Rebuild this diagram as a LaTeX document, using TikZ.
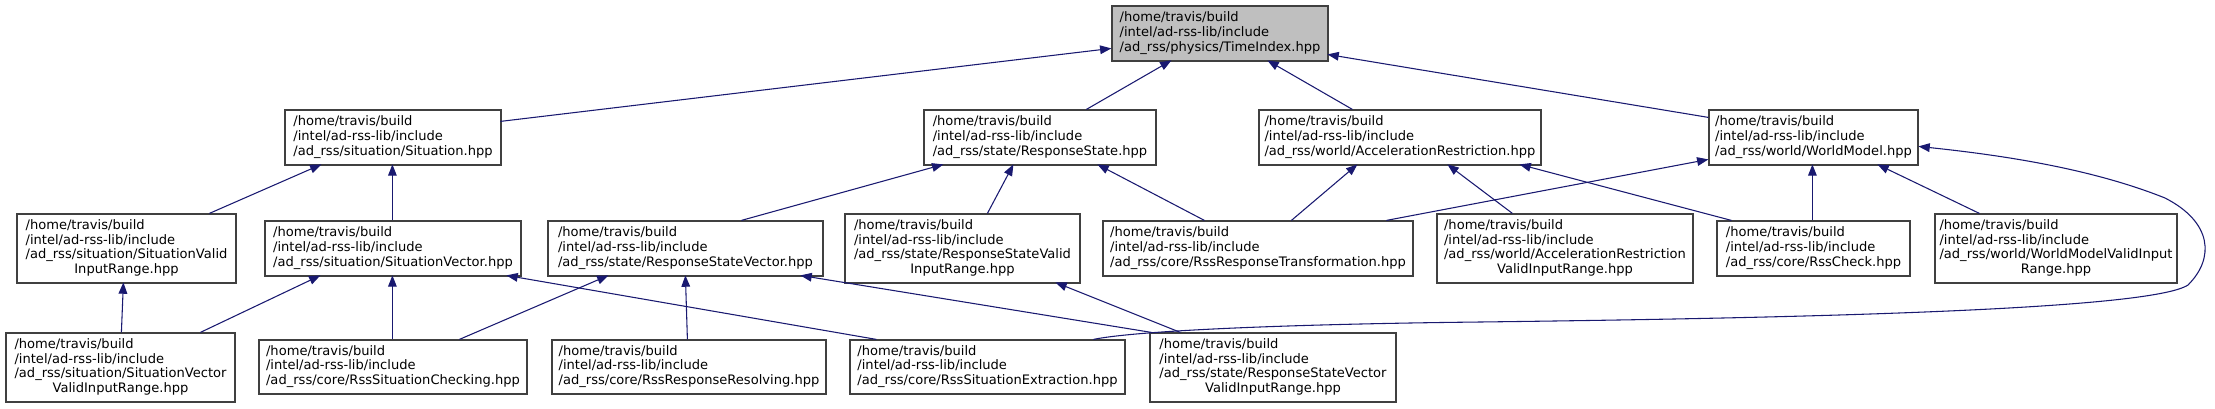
\documentclass[tikz,border=0pt]{standalone}
\usepackage{fontspec}
\setmainfont{DejaVu Sans}
\usetikzlibrary{calc,arrows.meta}
\definecolor{edgeblue}{HTML}{191970}
\definecolor{boxline}{HTML}{404040}
\definecolor{boxgray}{HTML}{BFBFBF}
\newcommand\labthree[3]{\begin{tabular}{@{}l@{}}#1\\#2\\#3\end{tabular}}
\newcommand\labfour[4]{\begin{tabular}{@{}l@{}}#1\\#2\\#3\\\multicolumn{1}{@{}c@{}}{#4}\end{tabular}}
\newcommand\hb{/home/travis/build}
\newcommand\il{/intel/ad-rss-lib/include}
\begin{document}
\begin{tikzpicture}[x=0.75pt,y=-0.75pt,
  filebox/.style={draw=boxline,line width=0.9pt,fill=white,inner sep=0pt,anchor=center,
     font=\fontsize{9.8}{11}\selectfont},
  edge/.style={draw=edgeblue,line width=0.8pt,-{Triangle[length=8.5pt,width=6.5pt]}}]
\useasboundingbox (0,0) rectangle (2215,408);
% row 0
\node[filebox,fill=boxgray,minimum width=216*0.75pt,minimum height=55*0.75pt] (ti) at (1220,33.5)
  {\labthree{\hb}{\il}{/ad\_rss/physics/TimeIndex.hpp}};
% row 1
\node[filebox,minimum width=216*0.75pt,minimum height=55*0.75pt] (sit) at (393,137.5)
  {\labthree{\hb}{\il}{/ad\_rss/situation/Situation.hpp}};
\node[filebox,minimum width=232*0.75pt,minimum height=55*0.75pt] (rs) at (1040,137.5)
  {\labthree{\hb}{\il}{/ad\_rss/state/ResponseState.hpp}};
\node[filebox,minimum width=282*0.75pt,minimum height=55*0.75pt] (ar) at (1400,137.5)
  {\labthree{\hb}{\il}{/ad\_rss/world/AccelerationRestriction.hpp}};
\node[filebox,minimum width=209*0.75pt,minimum height=55*0.75pt] (wm) at (1813.5,137.5)
  {\labthree{\hb}{\il}{/ad\_rss/world/WorldModel.hpp}};
% row 2
\node[filebox,minimum width=219*0.75pt,minimum height=69*0.75pt] (svir) at (126.5,248.5)
  {\labfour{\hb}{\il}{/ad\_rss/situation/SituationValid}{InputRange.hpp}};
\node[filebox,minimum width=256*0.75pt,minimum height=55*0.75pt] (sv) at (393,248.5)
  {\labthree{\hb}{\il}{/ad\_rss/situation/SituationVector.hpp}};
\node[filebox,minimum width=275*0.75pt,minimum height=55*0.75pt] (rsv) at (685.5,248.5)
  {\labthree{\hb}{\il}{/ad\_rss/state/ResponseStateVector.hpp}};
\node[filebox,minimum width=235*0.75pt,minimum height=69*0.75pt] (rsvir) at (962.5,248.5)
  {\labfour{\hb}{\il}{/ad\_rss/state/ResponseStateValid}{InputRange.hpp}};
\node[filebox,minimum width=310*0.75pt,minimum height=55*0.75pt] (rrt) at (1258,248.5)
  {\labthree{\hb}{\il}{/ad\_rss/core/RssResponseTransformation.hpp}};
\node[filebox,minimum width=256*0.75pt,minimum height=69*0.75pt] (arvir) at (1565,248.5)
  {\labfour{\hb}{\il}{/ad\_rss/world/AccelerationRestriction}{ValidInputRange.hpp}};
\node[filebox,minimum width=193*0.75pt,minimum height=55*0.75pt] (rc) at (1813.5,248.5)
  {\labthree{\hb}{\il}{/ad\_rss/core/RssCheck.hpp}};
\node[filebox,minimum width=242*0.75pt,minimum height=69*0.75pt] (wmvir) at (2056,248.5)
  {\labfour{\hb}{\il}{/ad\_rss/world/WorldModelValidInput}{Range.hpp}};
% row 3
\node[filebox,minimum width=229*0.75pt,minimum height=69*0.75pt] (svvir) at (120.5,367.5)
  {\labfour{\hb}{\il}{/ad\_rss/situation/SituationVector}{ValidInputRange.hpp}};
\node[filebox,minimum width=268*0.75pt,minimum height=54*0.75pt] (rsc) at (393,367)
  {\labthree{\hb}{\il}{/ad\_rss/core/RssSituationChecking.hpp}};
\node[filebox,minimum width=274*0.75pt,minimum height=54*0.75pt] (rrr) at (689,367)
  {\labthree{\hb}{\il}{/ad\_rss/core/RssResponseResolving.hpp}};
\node[filebox,minimum width=275*0.75pt,minimum height=54*0.75pt] (rse) at (987.5,367)
  {\labthree{\hb}{\il}{/ad\_rss/core/RssSituationExtraction.hpp}};
\node[filebox,minimum width=246*0.75pt,minimum height=69*0.75pt] (rsvvir) at (1273,367.5)
  {\labfour{\hb}{\il}{/ad\_rss/state/ResponseStateVector}{ValidInputRange.hpp}};
% edges (tail = including file, head = included file)
\draw[edge] ($(sit.north west)+(216,12)$) -- ($(ti.north west)+(0,43)$);
\draw[edge] ($(rs.north west)+(163,0)$) -- ($(ti.north west)+(60,55)$);
\draw[edge] ($(ar.north west)+(94,0)$) -- ($(ti.north west)+(156,55)$);
\draw[edge] ($(wm.north west)+(0,8)$) -- ($(ti.north west)+(216,49)$);
\draw[edge] ($(svir.north west)+(193,0)$) -- ($(sit.north west)+(37,55)$);
\draw[edge] ($(sv.north west)+(128,0)$) -- ($(sit.north west)+(108,55)$);
\draw[edge] ($(rsv.north west)+(194,0)$) -- ($(rs.north west)+(20,55)$);
\draw[edge] ($(rsvir.north west)+(143,0)$) -- ($(rs.north west)+(90,55)$);
\draw[edge] ($(rrt.north west)+(102,0)$) -- ($(rs.north west)+(174,55)$);
\draw[edge] ($(rrt.north west)+(189,0)$) -- ($(ar.north west)+(99,55)$);
\draw[edge] ($(rrt.north west)+(284,0)$) -- ($(wm.north west)+(0,50)$);
\draw[edge] ($(arvir.north west)+(76,0)$) -- ($(ar.north west)+(189,55)$);
\draw[edge] ($(rc.north west)+(15,0)$) -- ($(ar.north west)+(261,55)$);
\draw[edge] ($(rc.north west)+(96,0)$) -- ($(wm.north west)+(104,55)$);
\draw[edge] ($(wmvir.north west)+(45,0)$) -- ($(wm.north west)+(169,55)$);
\draw[edge] ($(svvir.north west)+(116,0)$) -- ($(svir.north west)+(107,69)$);
\draw[edge] ($(svvir.north west)+(195,0)$) -- ($(sv.north west)+(56,55)$);
\draw[edge] ($(rsc.north west)+(134,0)$) -- ($(sv.north west)+(128,55)$);
\draw[edge] ($(rsc.north west)+(201,0)$) -- ($(rsv.north west)+(61,55)$);
\draw[edge] ($(rse.north west)+(27,0)$) -- ($(sv.north west)+(242,55)$);
\draw[edge] ($(rrr.north west)+(136,0)$) -- ($(rsv.north west)+(138,55)$);
\draw[edge] ($(rsvvir.north west)+(2,0)$) -- ($(rsv.north west)+(253,55)$);
\draw[edge] ($(rsvvir.north west)+(31,0)$) -- ($(rsvir.north west)+(211,69)$);
\draw[edge] ($(rse.north west)+(244,0)$) .. controls (1140,330) and (1300,324) .. (1480,322)
  .. controls (1800,318) and (2150,310) .. (2188,285)
  .. controls (2215,258) and (2212,222) .. (2165,198)
  .. controls (2090,168) and (2000,155) .. ($(wm.north west)+(210,37)$);
\end{tikzpicture}
\end{document}
